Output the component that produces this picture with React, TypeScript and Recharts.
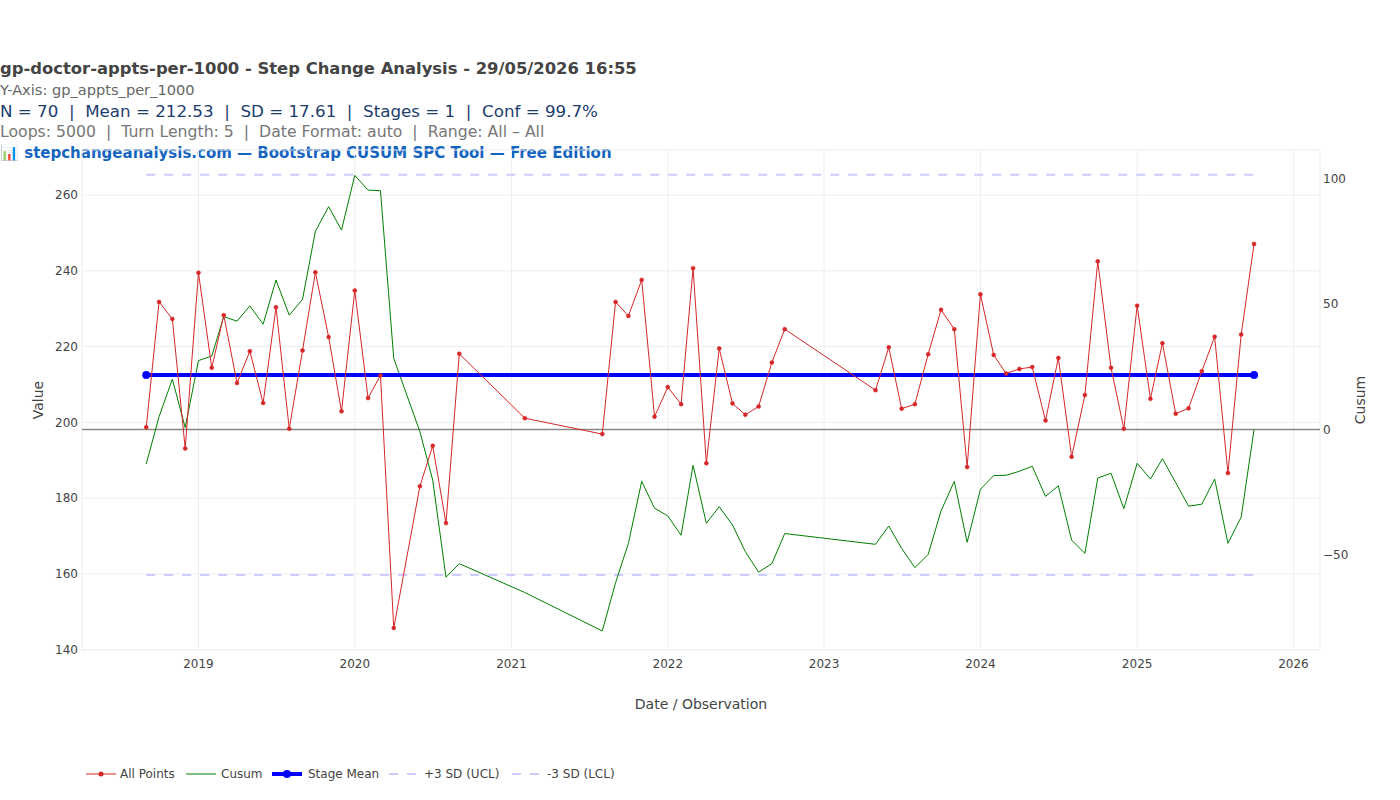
import React from "react";
import { LineChart, Line, XAxis, YAxis, CartesianGrid, ReferenceLine, Label } from "recharts";

// observation months (gaps are real gaps in the source data)
const months: string[] = [
  "2018-09", "2018-10", "2018-11", "2018-12",
  "2019-01", "2019-02", "2019-03", "2019-04", "2019-05", "2019-06", "2019-07", "2019-08", "2019-09", "2019-10", "2019-11", "2019-12",
  "2020-01", "2020-02", "2020-03", "2020-04", "2020-06", "2020-07", "2020-08", "2020-09",
  "2021-02", "2021-08", "2021-09", "2021-10", "2021-11", "2021-12",
  "2022-01", "2022-02", "2022-03", "2022-04", "2022-05", "2022-06", "2022-07", "2022-08", "2022-09", "2022-10",
  "2023-05", "2023-06", "2023-07", "2023-08", "2023-09", "2023-10", "2023-11", "2023-12",
  "2024-01", "2024-02", "2024-03", "2024-04", "2024-05", "2024-06", "2024-07", "2024-08", "2024-09", "2024-10", "2024-11", "2024-12",
  "2025-01", "2025-02", "2025-03", "2025-04", "2025-05", "2025-06", "2025-07", "2025-08", "2025-09", "2025-10",
];

const values: number[] = [
  198.7, 231.8, 227.3, 193.1,
  239.5, 214.4, 228.3, 210.4, 218.8, 205.1, 230.4, 198.3, 219.0, 239.6, 222.5, 202.9,
  234.8, 206.4, 212.4, 145.7, 183.1, 193.8, 173.4, 218.1,
  201.1, 196.9, 231.8, 228.1, 237.6, 201.5,
  209.3, 204.8, 240.7, 189.2, 219.5, 205.0, 202.0, 204.2, 215.8, 224.6,
  208.5, 219.8, 203.6, 204.8, 218.0, 229.7, 224.6, 188.2,
  233.8, 217.8, 212.9, 214.1, 214.6, 200.5, 217.0, 190.9, 207.2, 242.5, 214.4, 198.3,
  230.8, 206.2, 220.9, 202.3, 203.7, 213.5, 222.6, 186.6, 223.2, 247.1,
];

const cusum: number[] = [
  -13.7, 5.2, 20.1, 0.8,
  27.5, 29.3, 45.0, 43.2, 49.3, 42.0, 59.6, 45.6, 51.9, 79.0, 88.8, 79.5,
  101.3, 95.4, 95.2, 28.4, -0.8, -20.1, -58.8, -53.4,
  -64.9, -80.2, -61.0, -45.3, -20.6, -31.3,
  -34.4, -42.1, -14.2, -37.3, -30.7, -38.0, -48.6, -56.8, -53.4, -41.4,
  -45.7, -38.4, -47.3, -55.0, -49.7, -32.4, -20.6, -44.9,
  -23.8, -18.3, -18.2, -16.6, -14.6, -26.6, -22.4, -44.0, -49.3, -19.3, -17.4, -31.5,
  -13.4, -19.7, -11.6, -21.1, -30.5, -29.7, -19.7, -45.3, -34.8, 0,
];

const stageMean = 212.53;
const ucl = 265.36;
const lcl = 159.7;

const yearTicks: number[] = [2019, 2020, 2021, 2022, 2023, 2024, 2025, 2026];
const valueTicks: number[] = [140, 160, 180, 200, 220, 240, 260];
const cusumTicks: number[] = [-50, 0, 50, 100];

const toTime = (m: string) => {
  const [y, mo] = m.split("-").map(Number);
  return Date.UTC(y, mo - 1, 1);
};

const rows = months.map((m, i) => ({
  t: toTime(m),
  value: values[i],
  cusum: cusum[i],
  mean: stageMean,
  ucl,
  lcl,
}));

const xTicks = yearTicks.map((y) => Date.UTC(y, 0, 1));
const xDomain = [Date.UTC(2018, 3, 4), Date.UTC(2026, 2, 4)];

const FONT = '"DejaVu Sans", Verdana, sans-serif';

const AxisTitle = ({ x, y, text }: { x: number; y: number; text: string }) => (
  <text x={x} y={y} transform={`rotate(-90 ${x} ${y})`} textAnchor="middle" dominantBaseline="central" fill="#444" fontSize={14} fontFamily={FONT}>
    {text}
  </text>
);

const MeanDot = (props: any) => {
  const { cx, cy, index } = props;
  if (index !== 0 && index !== rows.length - 1) return <g key={index} />;
  return <circle key={index} cx={cx} cy={cy} r={4} fill="#0000ff" />;
};

const legendItems = [
  { name: "All Points", color: "#d62728", width: 1, dash: undefined, dot: 2.5, sx: 86, tx: 120 },
  { name: "Cusum", color: "#008000", width: 1, dash: undefined, dot: 0, sx: 186, tx: 221 },
  { name: "Stage Mean", color: "#0000ff", width: 4, dash: undefined, dot: 4, sx: 272, tx: 308 },
  { name: "+3 SD (UCL)", color: "#ccccff", width: 2, dash: "9 9", dot: 0, sx: 389, tx: 424 },
  { name: "-3 SD (LCL)", color: "#ccccff", width: 2, dash: "9 9", dot: 0, sx: 512, tx: 547 },
];

const lineStyle = (size: number, color: string, bold = false): React.CSSProperties => ({
  position: "absolute",
  left: 0,
  whiteSpace: "pre",
  fontFamily: FONT,
  fontSize: size,
  color,
  fontWeight: bold ? 700 : 400,
  lineHeight: "20px",
});

export default function App() {
  return (
    <div style={{ position: "absolute", left: 0, top: 0, width: 1400, height: 800, background: "#fff", fontFamily: FONT }}>
      <div style={{ ...lineStyle(16.4, "#444", true), top: 59 }}>gp-doctor-appts-per-1000 - Step Change Analysis - 29/05/2026 16:55</div>
      <div style={{ ...lineStyle(14.6, "#666"), top: 80 }}>Y-Axis: gp_appts_per_1000</div>
      <div style={{ ...lineStyle(16.7, "#1c3d6e"), top: 101 }}>N = 70  |  Mean = 212.53  |  SD = 17.61  |  Stages = 1  |  Conf = 99.7%</div>
      <div style={{ ...lineStyle(15.7, "#777"), top: 122 }}>Loops: 5000  |  Turn Length: 5  |  Date Format: auto  |  Range: All – All</div>
      <div style={{ ...lineStyle(15, "#1565c0", true), top: 143 }}>📊 stepchangeanalysis.com — Bootstrap CUSUM SPC Tool — Free Edition</div>

      <div style={{ position: "absolute", left: 0, top: 0 }}>
        <LineChart width={1400} height={800} data={rows} margin={{ top: 150, right: 0, bottom: 90, left: 0 }}>
          <CartesianGrid yAxisId="left" stroke="#eeeeee" strokeWidth={1} />
          <XAxis
            dataKey="t"
            type="number"
            scale="time"
            domain={xDomain}
            ticks={xTicks}
            allowDataOverflow
            tickFormatter={(v: number) => String(new Date(v).getUTCFullYear())}
            tickLine={false}
            axisLine={false}
            tickSize={0}
            tickMargin={9}
            height={60}
            tick={{ fill: "#444", fontSize: 12, fontFamily: FONT }}
          >
            <Label
              content={() => (
                <text x={701} y={704} textAnchor="middle" dominantBaseline="central" fill="#444" fontSize={14} fontFamily={FONT}>
                  Date / Observation
                </text>
              )}
            />
          </XAxis>
          <YAxis
            yAxisId="left"
            type="number"
            domain={[139.9, 271.9]}
            ticks={valueTicks}
            allowDataOverflow
            width={82}
            tickLine={false}
            axisLine={false}
            tickSize={0}
            tickMargin={4}
            tick={{ fill: "#444", fontSize: 12, fontFamily: FONT }}
          >
            <Label content={() => <AxisTitle x={38} y={400} text="Value" />} />
          </YAxis>
          <YAxis
            yAxisId="right"
            orientation="right"
            type="number"
            domain={[-87.8, 111.4]}
            ticks={cusumTicks}
            allowDataOverflow
            width={80}
            tickLine={false}
            axisLine={false}
            tickSize={0}
            tickMargin={3}
            tickFormatter={(v: number) => (v < 0 ? `\u2212${Math.abs(v)}` : String(v))}
            tick={{ fill: "#444", fontSize: 12, fontFamily: FONT }}
          >
            <Label content={() => <AxisTitle x={1360} y={400} text="Cusum" />} />
          </YAxis>

          <ReferenceLine yAxisId="right" y={0} stroke="#888" strokeWidth={1.5} />

          <Line yAxisId="left" dataKey="ucl" stroke="#ccccff" strokeWidth={2} strokeDasharray="9 9" dot={false} isAnimationActive={false} />
          <Line yAxisId="left" dataKey="lcl" stroke="#ccccff" strokeWidth={2} strokeDasharray="9 9" dot={false} isAnimationActive={false} />
          <Line yAxisId="right" dataKey="cusum" stroke="#008000" strokeWidth={1} dot={false} isAnimationActive={false} />
          <Line yAxisId="left" dataKey="mean" stroke="#0000ff" strokeWidth={4} dot={MeanDot} isAnimationActive={false} />
          <Line
            yAxisId="left"
            dataKey="value"
            stroke="#d62728"
            strokeWidth={1}
            dot={{ r: 2, fill: "#d62728", stroke: "#d62728", strokeWidth: 0.5 }}
            isAnimationActive={false}
          />
        </LineChart>
      </div>

      <svg style={{ position: "absolute", left: 0, top: 759 }} width={700} height={30}>
        {legendItems.map((it) => (
          <g key={it.name}>
            <line x1={it.sx} x2={it.sx + 30} y1={15} y2={15} stroke={it.color} strokeWidth={it.width} strokeDasharray={it.dash} />
            {it.dot > 0 && <circle cx={it.sx + 15} cy={15} r={it.dot} fill={it.color} />}
            <text x={it.tx} y={15} dominantBaseline="central" fill="#444" fontSize={12} fontFamily={FONT}>
              {it.name}
            </text>
          </g>
        ))}
      </svg>
    </div>
  );
}
